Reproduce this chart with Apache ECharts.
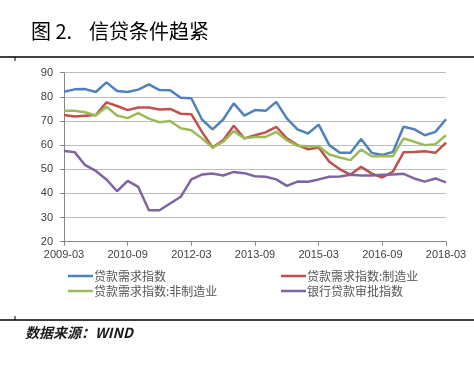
<!DOCTYPE html>
<html><head><meta charset="utf-8">
<script src="https://cdn.jsdelivr.net/npm/echarts@6/dist/echarts.min.js"></script>
<style>html,body{margin:0;padding:0;background:#fff}#c{width:474px;height:366px}</style>
</head><body><div id="c"></div>
<script>
const categories = ['2009-03','2009-06','2009-09','2009-12','2010-03','2010-06','2010-09','2010-12',
'2011-03','2011-06','2011-09','2011-12','2012-03','2012-06','2012-09','2012-12',
'2013-03','2013-06','2013-09','2013-12','2014-03','2014-06','2014-09','2014-12',
'2015-03','2015-06','2015-09','2015-12','2016-03','2016-06','2016-09','2016-12',
'2017-03','2017-06','2017-09','2017-12','2018-03'];
const loanDemand = [82.1,83.1,83.2,82.0,86.0,82.4,82.0,83.0,85.2,82.8,82.7,79.6,79.4,70.6,66.5,70.6,77.3,72.2,74.5,74.2,77.9,71.1,66.5,64.8,68.5,60.0,56.8,56.8,62.5,56.8,55.9,57.2,67.6,66.6,64.1,65.5,70.7];
const loanDemandMfg = [72.5,71.9,72.2,72.5,77.7,76.2,74.5,75.6,75.6,74.8,75.0,73.0,72.8,65.5,59.0,62.0,68.0,62.8,64.1,65.3,67.6,62.8,60.0,58.3,59.0,53.1,50.0,47.8,51.0,48.2,46.6,49.0,57.0,57.2,57.5,56.8,61.0];
const loanDemandNonMfg = [74.2,74.2,73.6,72.3,75.9,72.3,71.2,73.3,71.0,69.5,70.0,67.0,66.2,62.8,59.0,61.4,65.8,62.8,63.4,63.4,65.5,62.0,59.7,59.5,59.5,56.1,54.9,53.8,58.2,55.4,55.4,55.4,62.8,61.4,60.0,60.4,64.1];
const approval = [57.6,57.1,51.7,49.3,45.8,40.9,45.2,42.7,33.0,33.0,35.8,38.6,45.8,47.8,48.2,47.4,48.9,48.4,47.1,46.9,45.8,43.1,44.9,44.8,45.8,46.9,47.0,47.7,47.4,47.4,47.7,47.8,48.1,46.2,44.9,46.2,44.6];
const seriesNames = ['贷款需求指数','贷款需求指数:制造业','贷款需求指数:非制造业','银行贷款审批指数'];
const colors = ['#4F81BD','#C0504D','#9BBB59','#8064A2'];
const titleNum = '图 2.';
const titleMain = '信贷条件趋紧';
const sourceText = '数据来源：WIND';

const chart = echarts.init(document.getElementById('c'), null, {renderer:'canvas'});
const values = [loanDemand, loanDemandMfg, loanDemandNonMfg, approval];
const lbl = {color:'#404040', fontSize:11, fontFamily:'Liberation Sans, Arial, sans-serif'};
chart.setOption({
  animation:false,
  color: colors,
  title:{ text:'{a|' + titleNum + '}{b|' + titleMain + '}', left:26, top:16,
    textStyle:{ rich:{
      a:{fontFamily:'Noto Sans CJK SC', fontSize:20, fontWeight:'normal', color:'#000', width:58},
      b:{fontFamily:'Noto Sans CJK SC', fontSize:20, fontWeight:'normal', color:'#000'}
    }}},
  graphic:[
    {type:'line', shape:{x1:0,y1:57,x2:474,y2:57}, style:{stroke:'#000', lineWidth:1.5}},
    {type:'line', shape:{x1:15,y1:57,x2:15,y2:61}, style:{stroke:'#000', lineWidth:1}},
    {type:'line', shape:{x1:0,y1:320,x2:474,y2:320}, style:{stroke:'#000', lineWidth:1.5}},
    {type:'line', shape:{x1:15,y1:316,x2:15,y2:320}, style:{stroke:'#000', lineWidth:1}},
    {type:'text', left:25, top:326, style:{text:sourceText, font:'italic bold 14px "Noto Sans CJK SC"', fill:'#1a1a1a'}}
  ],
  grid:{left:64, right:28, top:72.7, bottom:124.3, containLabel:false},
  xAxis:{type:'category', data:categories, boundaryGap:false,
    axisLine:{lineStyle:{color:'#868686'}},
    axisTick:{interval:5, length:4, lineStyle:{color:'#868686'}},
    axisLabel:Object.assign({interval:5, margin:8}, lbl),
    splitLine:{show:false}},
  yAxis:{type:'value', min:20, max:90, interval:10,
    axisLine:{show:true, lineStyle:{color:'#868686'}},
    axisTick:{show:true, length:4, lineStyle:{color:'#868686'}},
    axisLabel:Object.assign({margin:11}, lbl),
    splitLine:{lineStyle:{color:'#bdbdbd', width:1}}},
  legend:[
    {orient:'vertical', left:63, top:265, itemGap:3, itemWidth:25, itemHeight:2.5, icon:'rect',
     data:[seriesNames[0], seriesNames[2]], textStyle:{color:'#555', fontSize:12, fontFamily:'Noto Sans CJK SC', padding:[0,0,0,-4]}},
    {orient:'vertical', left:276, top:265, itemGap:3, itemWidth:25, itemHeight:2.5, icon:'rect',
     data:[seriesNames[1], seriesNames[3]], textStyle:{color:'#555', fontSize:12, fontFamily:'Noto Sans CJK SC', padding:[0,0,0,-4]}}
  ],
  series: seriesNames.map((n,i)=>({name:n, type:'line', data:values[i], symbol:'none', lineStyle:{width:2.5, color:colors[i]}, itemStyle:{color:colors[i]}}))
});
</script></body></html>
